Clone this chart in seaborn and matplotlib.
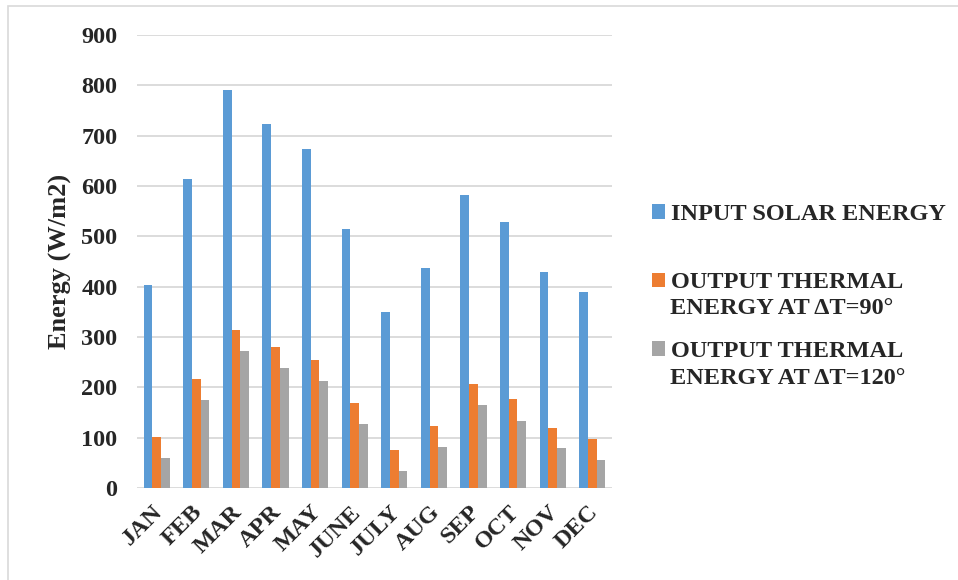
import matplotlib
matplotlib.use("Agg")
import matplotlib.pyplot as plt
import matplotlib.transforms as mtransforms
from matplotlib.patches import Rectangle
import pandas as pd
import seaborn as sns

# Monthly energy values (W/m2)
months = ["JAN", "FEB", "MAR", "APR", "MAY", "JUNE", "JULY", "AUG", "SEP", "OCT", "NOV", "DEC"]
input_solar = [404, 614, 790, 723, 673, 515, 349, 437, 583, 529, 430, 389]
output_90 = [101, 217, 314, 280, 254, 169, 76, 124, 206, 176, 120, 98]
output_120 = [59, 175, 272, 238, 212, 127, 33, 82, 164, 134, 79, 55]

series_names = ["INPUT SOLAR ENERGY", "OUTPUT THERMAL ENERGY AT \u0394T=90\u00b0",
                "OUTPUT THERMAL ENERGY AT \u0394T=120\u00b0"]
legend_first = ["INPUT SOLAR ENERGY", "OUTPUT THERMAL", "OUTPUT THERMAL"]
legend_second = ["", "ENERGY AT \u0394T=90\u00b0", "ENERGY AT \u0394T=120\u00b0"]
colors = ["#5B9BD5", "#ED7D31", "#A5A5A5"]
y_ticks = [0, 100, 200, 300, 400, 500, 600, 700, 800, 900]

df = pd.DataFrame({
    "month": months * 3,
    "value": input_solar + output_90 + output_120,
    "series": [series_names[0]] * 12 + [series_names[1]] * 12 + [series_names[2]] * 12,
})

sns.set_theme(style="white")
plt.rcParams["font.family"] = ["Liberation Serif", "DejaVu Serif"]
plt.rcParams["font.weight"] = "bold"

FS = 17.5
W, H = 958, 580
fig = plt.figure(figsize=(W / 100, H / 100), dpi=100)
fig.patch.set_facecolor("white")

# plot area in pixel units
px_l, px_r, px_t, px_b = 137, 612, 35, 488
ax = fig.add_axes([px_l / W, 1 - px_b / H, (px_r - px_l) / W, (px_b - px_t) / H])

sns.barplot(data=df, x="month", y="value", hue="series", order=months,
            hue_order=series_names, palette=colors, width=0.66,
            linewidth=0, saturation=1, ax=ax, legend=False)

ax.set_ylim(0, 900)
ax.set_yticks(y_ticks)
ax.set_yticklabels([str(v) for v in y_ticks])
ax.grid(axis="y", color="#D9D9D9", linewidth=1.3)
ax.set_axisbelow(True)
for s in ax.spines.values():
    s.set_visible(False)
ax.tick_params(axis="both", length=0)
ax.tick_params(axis="y", pad=14, labelsize=FS)
ax.tick_params(axis="x", pad=15, labelsize=FS)

for lbl in ax.get_yticklabels():
    lbl.set_fontweight("bold")
offset = mtransforms.ScaledTranslation(3 / 100, 0, fig.dpi_scale_trans)
for lbl in ax.get_xticklabels():
    lbl.set_fontweight("bold")
    lbl.set_rotation(45)
    lbl.set_ha("right")
    lbl.set_va("center")
    lbl.set_rotation_mode("anchor")
    lbl.set_transform(lbl.get_transform() + offset)

ax.set_xlabel("")
ax.set_ylabel("Energy (W/m2)", fontsize=19, fontweight="bold")
ax.yaxis.set_label_coords((72 - px_l) / (px_r - px_l), 0.5)

# legend: handles aligned with first line of each entry
handles = [Rectangle((0, 0), 1, 1, facecolor=c, edgecolor="none") for c in colors]
leg = fig.legend(handles, legend_first, loc="center left",
                 bbox_to_anchor=(652 / W, 1 - 283 / H), frameon=False,
                 prop={"size": FS, "weight": "bold"}, handlelength=0.55,
                 handleheight=0.55, handletextpad=0.22, labelspacing=1.95,
                 borderpad=0, borderaxespad=0)
for y, t in zip([309, 378], legend_second[1:]):
    fig.text(670 / W, 1 - y / H, t, fontsize=FS, fontweight="bold",
             ha="left", va="center")

# light frame around the chart
fig.patches.append(Rectangle((8 / W, -0.1), 1.2, 1.1 - 6 / H, transform=fig.transFigure,
                             fill=False, edgecolor="#D9D9D9", linewidth=1.2))

fig.savefig("out.png", dpi=100)
